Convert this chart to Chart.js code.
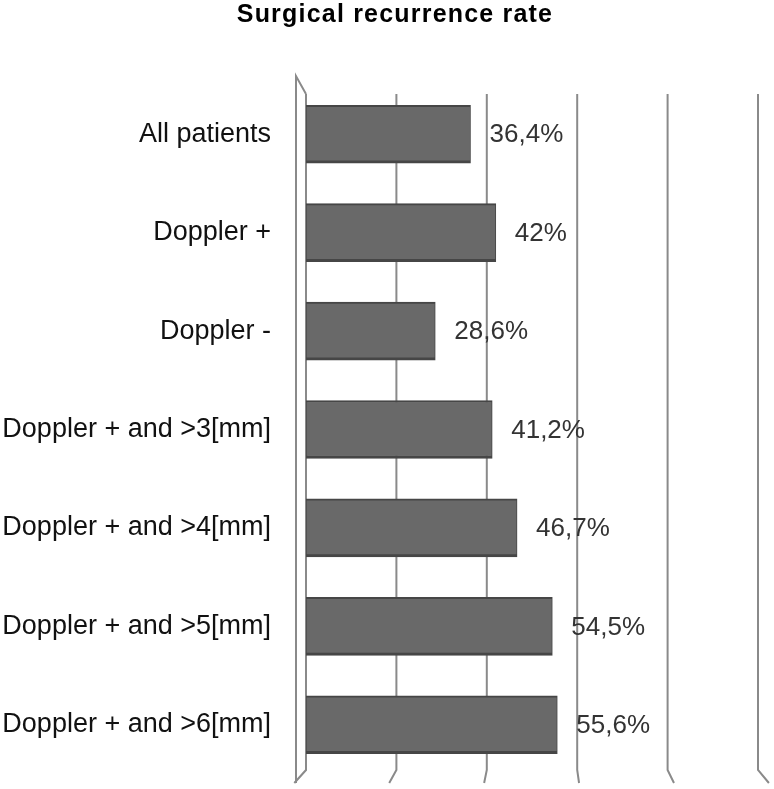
<!DOCTYPE html>
<html>
<head>
<meta charset="utf-8">
<script src="https://cdn.jsdelivr.net/npm/chart.js@4/dist/chart.umd.min.js"></script>
<style>
  html, body { margin: 0; padding: 0; background: #fff; overflow: hidden; }
  canvas { display: block; }
</style>
</head>
<body>
<canvas id="c" width="774" height="789"></canvas>
<script>
// ── Data ────────────────────────────────────────────────
const categories = [
  'All patients',
  'Doppler +',
  'Doppler -',
  'Doppler + and >3[mm]',
  'Doppler + and >4[mm]',
  'Doppler + and >5[mm]',
  'Doppler + and >6[mm]'
];
const recurrence = [36.4, 42, 28.6, 41.2, 46.7, 54.5, 55.6];
const valueLabels = ['36,4%', '42%', '28,6%', '41,2%', '46,7%', '54,5%', '55,6%'];
const xTicks = [0, 20, 40, 60, 80, 100];
const chartTitle = 'Surgical recurrence rate';

const GRID = '#8a8a8a';
const FONT = '"Liberation Sans", Arial, sans-serif';

// title drawn by hand so it can sit off-centre like the original
const titlePlugin = {
  id: 'ownTitle',
  afterDraw(chart) {
    const ctx = chart.ctx;
    ctx.save();
    ctx.fillStyle = '#000';
    ctx.font = 'bold 25px ' + FONT;
    if ('letterSpacing' in ctx) ctx.letterSpacing = '1.2px';
    ctx.textAlign = 'center';
    ctx.textBaseline = 'middle';
    ctx.fillText(chartTitle, 395, 15);
    ctx.restore();
  }
};

// 3D-ish walls: gridlines with slanted feet, left wall edge
const wallPlugin = {
  id: 'wall',
  beforeDatasetsDraw(chart) {
    const ctx = chart.ctx;
    const x = chart.scales.x;
    const area = chart.chartArea;
    const top = area.top + 9;
    const bottom = area.bottom - 4;
    ctx.save();
    ctx.strokeStyle = GRID;
    ctx.lineWidth = 2;
    xTicks.forEach(function (t) {
      const px = x.getPixelForValue(t);
      const off = (px - 540) * 0.05;
      ctx.beginPath();
      ctx.moveTo(px, top);
      ctx.lineTo(px, bottom);
      ctx.lineTo(px + off, bottom + 13);
      ctx.stroke();
    });
    // left side wall
    const x0 = x.getPixelForValue(0);
    ctx.beginPath();
    ctx.moveTo(x0, top);
    ctx.lineTo(x0 - 10, top - 18);
    ctx.lineTo(x0 - 10, bottom + 13);
    ctx.stroke();
    ctx.restore();
  }
};

const valueLabelPlugin = {
  id: 'valueLabels',
  afterDatasetsDraw(chart) {
    const ctx = chart.ctx;
    const meta = chart.getDatasetMeta(0);
    ctx.save();
    ctx.fillStyle = '#333';
    ctx.font = '26px ' + FONT;
    ctx.textAlign = 'left';
    ctx.textBaseline = 'middle';
    meta.data.forEach(function (bar, i) {
      ctx.fillText(valueLabels[i], bar.x + 19, bar.y + 1);
    });
    ctx.restore();
  }
};

new Chart(document.getElementById('c'), {
  type: 'bar',
  data: {
    labels: categories,
    datasets: [{
      data: recurrence,
      backgroundColor: '#696969',
      borderColor: '#464646',
      borderWidth: { top: 2, right: 1, bottom: 3, left: 1 },
      borderSkipped: false,
      barThickness: 58
    }]
  },
  options: {
    indexAxis: 'y',
    responsive: false,
    animation: false,
    layout: { padding: { left: 0, right: 16, top: 85, bottom: 15 } },
    plugins: {
      legend: { display: false },
      tooltip: { enabled: false },
      title: { display: false }
    },
    scales: {
      x: {
        display: false,
        min: 0,
        max: 100
      },
      y: {
        afterFit(scale) {
          scale.width = 306;
          // label padding would otherwise reserve space above/below the plot
          scale.paddingTop = 0;
          scale.paddingBottom = 0;
        },
        ticks: {
          color: '#111',
          padding: 27,
          font: { family: FONT, size: 27 }
        },
        grid: { display: false },
        border: { display: false }
      }
    }
  },
  plugins: [wallPlugin, valueLabelPlugin, titlePlugin]
});
</script>
</body>
</html>
